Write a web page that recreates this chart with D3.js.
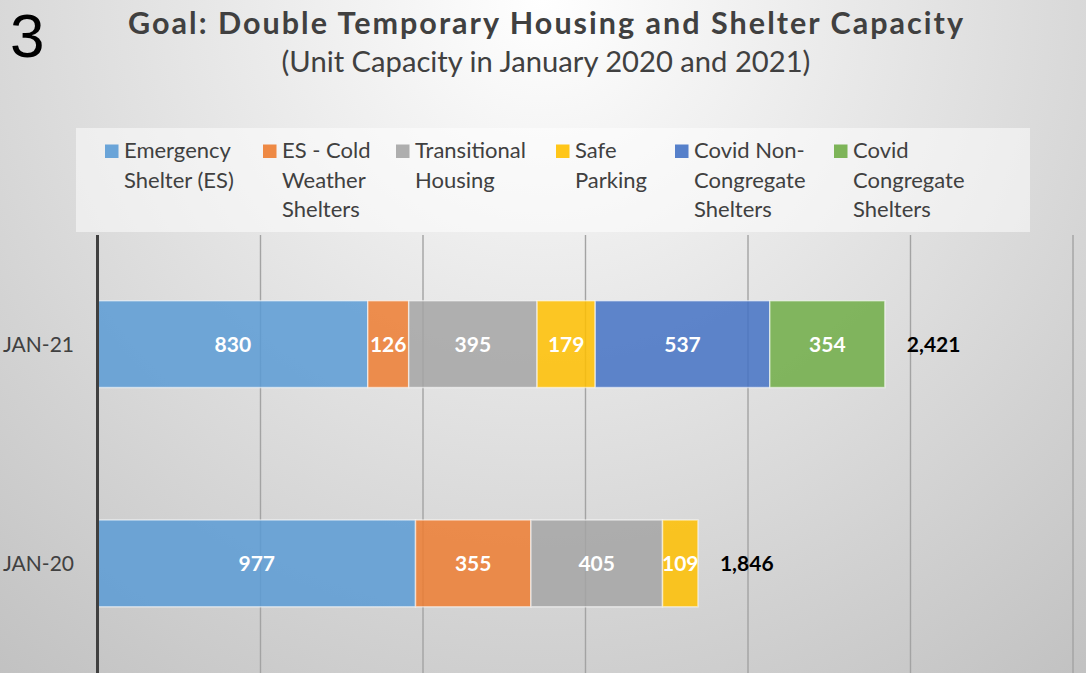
<!DOCTYPE html>
<html>
<head>
<meta charset="utf-8">
<script src="https://cdn.jsdelivr.net/npm/d3@7"></script>
<style>
  html, body { margin: 0; padding: 0; background: #ffffff; }
  svg { display: block; }
</style>
</head>
<body>
<svg id="chart" width="1086" height="673"></svg>
<script>
// ---- data ----
const categories = ["JAN-20", "JAN-21"];
const seriesNames = ["Emergency Shelter (ES)", "ES - Cold Weather Shelters", "Transitional Housing", "Safe Parking", "Covid Non-Congregate Shelters", "Covid Congregate Shelters"];
const legendLines = [["Emergency", "Shelter (ES)"], ["ES - Cold", "Weather", "Shelters"], ["Transitional", "Housing"], ["Safe", "Parking"], ["Covid Non-", "Congregate", "Shelters"], ["Covid", "Congregate", "Shelters"]];
const emergencyShelter = [977, 830];
const coldWeather = [355, 126];
const transitional = [405, 395];
const safeParking = [109, 179];
const covidNonCongregate = [0, 537];
const covidCongregate = [0, 354];
const xTicks = [0, 500, 1000, 1500, 2000, 2500, 3000];
const colors = ["#5B9BD5", "#ED7D31", "#A5A5A5", "#FFC000", "#4472C4", "#70AD47"];
const titleText = "Goal: Double Temporary Housing and Shelter Capacity";
const subtitleText = "(Unit Capacity in January 2020 and 2021)";
const slideNumber = "3";

// legend layout (pixel positions of each legend entry)
const legendItemX = [105, 263, 396, 556, 675, 834];

const seriesValues = [emergencyShelter, coldWeather, transitional, safeParking, covidNonCongregate, covidCongregate];
const rows = categories.map((c, i) => {
  const r = { category: c };
  seriesNames.forEach((s, j) => r[s] = seriesValues[j][i]);
  r.total = d3.sum(seriesValues, v => v[i]);
  return r;
});

const W = 1086, H = 673;
const svg = d3.select("#chart");
const FONT = "Lato, 'Open Sans', sans-serif";

// background gradient
const defs = svg.append("defs");
const rg = defs.append("radialGradient").attr("id", "bg")
  .attr("gradientUnits", "userSpaceOnUse")
  .attr("cx", 543).attr("cy", 0).attr("r", 900);
rg.append("stop").attr("offset", 0).attr("stop-color", "#ffffff");
rg.append("stop").attr("offset", 1).attr("stop-color", "#bfbfbf");
svg.append("rect").attr("width", W).attr("height", H).attr("fill", "url(#bg)");

// scales
const x = d3.scaleLinear().domain([0, 3000]).range([98, 1073]);
const y = d3.scaleBand().domain(categories.slice().reverse()).range([234.5, 673])
  .paddingInner(0.604).paddingOuter(0.302);

// gridlines
svg.append("g").selectAll("line").data(xTicks.filter(t => t > 0)).join("line")
  .attr("x1", d => x(d)).attr("x2", d => x(d))
  .attr("y1", 235).attr("y2", H)
  .attr("stroke", "#a3a3a3").attr("stroke-width", 1.4);

// stacked bars
const stack = d3.stack().keys(seriesNames);
const stacked = stack(rows);
const gBars = svg.append("g");
stacked.forEach((layer, li) => {
  const g = gBars.append("g");
  const segs = layer.filter(d => d[1] - d[0] > 0);
  g.selectAll("rect").data(segs).join("rect")
    .attr("x", d => x(d[0]))
    .attr("y", d => y(d.data.category))
    .attr("width", d => x(d[1]) - x(d[0]))
    .attr("height", y.bandwidth())
    .attr("fill", colors[li]).attr("fill-opacity", 0.85)
    .attr("stroke", "#ffffff").attr("stroke-opacity", 0.55).attr("stroke-width", 1.5);
  g.selectAll("text").data(segs).join("text")
    .attr("x", d => (x(d[0]) + x(d[1])) / 2)
    .attr("y", d => y(d.data.category) + y.bandwidth() / 2)
    .attr("dy", "0.36em")
    .attr("text-anchor", "middle")
    .attr("font-family", FONT).attr("font-weight", "bold").attr("font-size", 21)
    .attr("fill", "#ffffff")
    .text(d => d3.format(",")(d[1] - d[0]));
});

// totals
svg.append("g").selectAll("text").data(rows).join("text")
  .attr("x", d => x(d.total) + 22)
  .attr("y", d => y(d.category) + y.bandwidth() / 2)
  .attr("dy", "0.36em")
  .attr("font-family", FONT).attr("font-weight", "bold").attr("font-size", 21)
  .attr("fill", "#000000")
  .text(d => d3.format(",")(d.total));

// axis line
svg.append("line").attr("x1", 97.5).attr("x2", 97.5).attr("y1", 235).attr("y2", H)
  .attr("stroke", "#404040").attr("stroke-width", 3);

// category labels
svg.append("g").selectAll("text").data(categories).join("text")
  .attr("x", 74).attr("y", d => y(d) + y.bandwidth() / 2).attr("dy", "0.36em")
  .attr("text-anchor", "end")
  .attr("font-family", FONT).attr("font-size", 21).attr("fill", "#404040")
  .text(d => d);

// legend
svg.append("rect").attr("x", 76).attr("y", 128).attr("width", 954).attr("height", 104)
  .attr("fill", "#ffffff").attr("fill-opacity", 0.5);
const gLeg = svg.append("g");
seriesNames.forEach((s, i) => {
  const item = gLeg.append("g").attr("transform", `translate(${legendItemX[i]},0)`);
  item.append("rect").attr("x", 0).attr("y", 144.5).attr("width", 13.5).attr("height", 13.5)
    .attr("fill", colors[i]).attr("fill-opacity", 0.9);
  const t = item.append("text").attr("font-family", FONT).attr("font-size", 22).attr("fill", "#404040");
  legendLines[i].forEach((ln, k) => {
    t.append("tspan").attr("x", 19).attr("y", 158 + k * 29.5).text(ln);
  });
});

// title
function fitText(sel, target) {
  const w = sel.node().getComputedTextLength();
  const fs = parseFloat(sel.attr("font-size"));
  sel.attr("font-size", fs * target / w);
}
svg.append("text").attr("x", 545.5).attr("y", 34).attr("text-anchor", "middle")
  .attr("font-family", FONT).attr("font-weight", "bold").attr("font-size", 30.5)
  .attr("textLength", 835).attr("lengthAdjust", "spacing")
  .attr("fill", "#404040").text(titleText);
const sub = svg.append("text").attr("x", 546).attr("y", 72).attr("text-anchor", "middle")
  .attr("font-family", FONT).attr("font-size", 24)
  .attr("fill", "#404040").text(subtitleText);
fitText(sub, 529);

svg.append("text").attr("x", 10).attr("y", 57)
  .attr("font-family", "'Liberation Sans', Arial, sans-serif").attr("font-size", 62).attr("fill", "#000000")
  .text(slideNumber);
</script>
</body>
</html>
